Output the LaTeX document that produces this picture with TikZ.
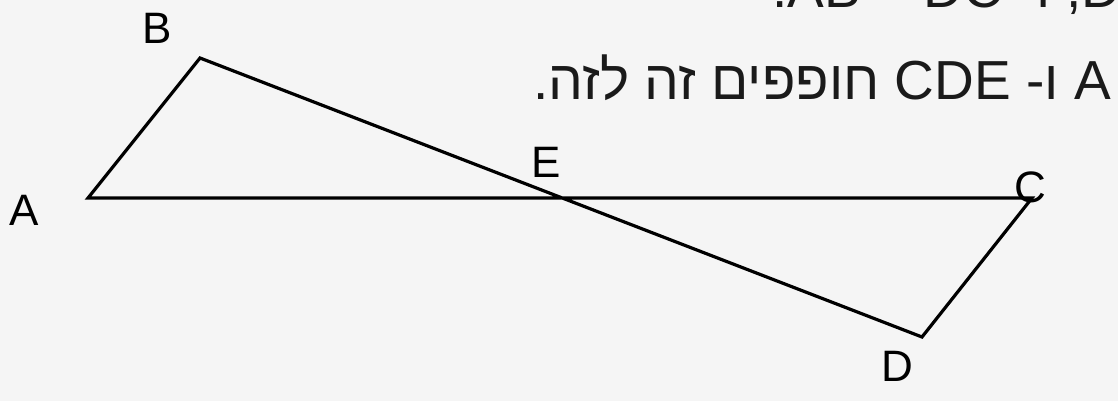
\documentclass[tikz,border=0pt]{standalone}
\usepackage{fontspec}
\setmainfont{Liberation Sans}
\newfontfamily\hebfont[Script=Hebrew]{Liberation Sans}
\newfontfamily\symfont{DejaVu Sans}
\TeXXeTstate=1
\definecolor{bgcol}{HTML}{F5F5F5}
\definecolor{ink}{HTML}{1A1A1A}
\tikzset{
  edge/.style={draw=black, line width=3.2pt, line join=miter},
  vlabel/.style={inner sep=0pt, font=\fontsize{44}{50}\selectfont, text=black},
  hebtext/.style={inner sep=0pt, font=\hebfont\fontsize{55}{60}\selectfont, text=ink}
}
\begin{document}
\begin{tikzpicture}[x=1pt,y=-1pt]
  \fill[bgcol] (0,0) rectangle (1118,401);
  \useasboundingbox (0,0) rectangle (1118,401);
  \clip (0,0) rectangle (1118,401);
  % vertices
  \coordinate (A) at (88,198);
  \coordinate (B) at (200,58);
  \coordinate (C) at (1032,198);
  \coordinate (D) at (922,337);
  \coordinate (E) at (562,198);
  % figure
  \draw[edge] (A) -- (B) -- (D) -- (C) -- cycle;
  % labels
  \node[vlabel] (lA) at (24,210) {A};
  \node[vlabel] (lB) at (157,28) {B};
  \node[vlabel] (lE) at (546,162) {E};
  \node[vlabel] (lC) at (1030,187) {C};
  \node[vlabel] (lD) at (897,366) {D};
  % text
  \node[hebtext, anchor=base west] (t1) at (772,8)
    {\beginR נתון: \beginL DC {\symfont ∥} AB\endL, ו- \beginL AB = DC\endL.\endR};
  \node[hebtext, anchor=base east] (t2) at (1111,100)
    {\beginR \beginL A\endL{} ו- \beginL CDE\endL{} חופפים זה לזה.\endR};
\end{tikzpicture}
\end{document}
